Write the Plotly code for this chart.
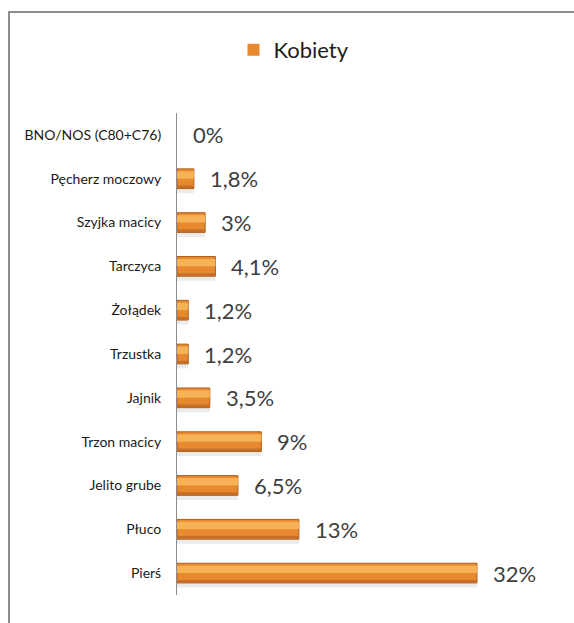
import plotly.graph_objects as go

# Data (top-to-bottom as shown in the reference)
categories = ["BNO/NOS (C80+C76)", "Pęcherz moczowy", "Szyjka macicy", "Tarczyca",
              "Żołądek", "Trzustka", "Jajnik", "Trzon macicy", "Jelito grube",
              "Płuco", "Pierś"]
values = [0, 1.8, 3, 4.1, 1.2, 1.2, 3.5, 9, 6.5, 13, 32]
labels = ["0%", "1,8%", "3%", "4,1%", "1,2%", "1,2%", "3,5%", "9%", "6,5%", "13%", "32%"]
series_name = "Kobiety"

W, H = 574, 623
L, R, T, B = 177, 22, 113, 28
pw, ph = W - L - R, H - T - B
FONT = "Lato, 'Open Sans', sans-serif"

fig = go.Figure()

edge_colors = ["rgba(0,0,0,0)" if v == 0 else "#B0601E" for v in values]

# soft shadow
fig.add_trace(go.Bar(
    x=values, y=categories, orientation="h", width=0.45, offset=-0.33,
    marker=dict(color="rgba(0,0,0,0.08)", line=dict(width=0)),
    showlegend=False, hoverinfo="skip"))

# main bar
fig.add_trace(go.Bar(
    x=values, y=categories, orientation="h", width=0.45,
    name=series_name,
    marker=dict(color="#E6892F", line=dict(color=edge_colors, width=1)),
    showlegend=True))

# darker lower band
fig.add_trace(go.Bar(
    x=values, y=categories, orientation="h", width=0.06, offset=-0.215,
    marker=dict(color="#C46E2A", line=dict(width=0)),
    showlegend=False, hoverinfo="skip"))

# highlight
fig.add_trace(go.Bar(
    x=values, y=categories, orientation="h", width=0.17, offset=0.0,
    marker=dict(color="#F7B257", line=dict(width=0)),
    showlegend=False, hoverinfo="skip"))

for c, v, t in zip(categories, values, labels):
    fig.add_annotation(x=v, y=c, text=t, xanchor="left", yanchor="middle",
                       xshift=14, showarrow=False,
                       font=dict(family=FONT, size=22, color="#404040"))

# chart frame (right and bottom edges lie outside the picture)
fig.add_shape(type="rect", xref="paper", yref="paper",
              x0=(9 - L) / pw, x1=(W + 200 - L) / pw,
              y0=-(B + 200) / ph, y1=1 + (T - 12) / ph,
              line=dict(color="#8C8C8C", width=2), fillcolor="rgba(0,0,0,0)",
              layer="below")

fig.update_layout(
    width=W, height=H,
    margin=dict(l=L, r=R, t=T, b=B, pad=0),
    paper_bgcolor="white", plot_bgcolor="white",
    barmode="overlay",
    font=dict(family=FONT, color="#000000"),
    showlegend=True,
    legend=dict(orientation="h", x=(294 - L) / pw, xanchor="center",
                y=1 + 63 / ph, yanchor="middle",
                font=dict(size=22, color="#202020"), itemwidth=30),
    xaxis=dict(range=[0, 40], visible=False, fixedrange=True),
    yaxis=dict(categoryorder="array", categoryarray=categories[::-1],
               showline=True, linecolor="#8C8C8C", linewidth=1,
               ticks="", showgrid=False, ticklabelstandoff=12, fixedrange=True,
               tickfont=dict(size=14, color="#1a1a1a"),
               range=[-0.5, len(categories) - 0.5]),
)

fig.write_html(
    "out.html", config={"displayModeBar": False},
    post_script=("document.documentElement.style.margin='0';"
                 "document.documentElement.style.overflow='hidden';"
                 "document.body.style.margin='0';"
                 "document.body.style.overflow='hidden';"))
